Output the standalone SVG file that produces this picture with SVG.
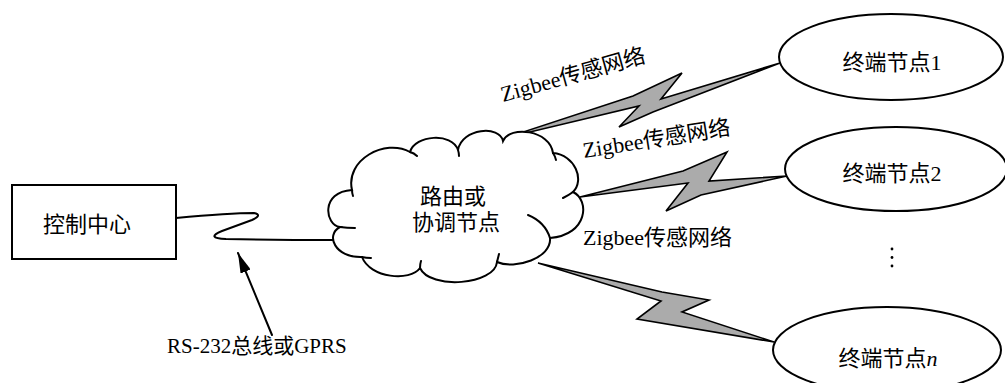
<svg xmlns="http://www.w3.org/2000/svg" width="1005" height="383" viewBox="0 0 1005 383">
<style>
.ln{fill:none;stroke:#000;stroke-width:2;stroke-linejoin:round;stroke-linecap:round}
.shape{fill:#fff;stroke:#000;stroke-width:2}
.bolt{fill:#ababab;stroke:#000;stroke-width:1.6;stroke-linejoin:miter}
.t{font-family:"Liberation Serif","Noto Sans CJK SC",serif;font-size:22px;fill:#000}
.tm{text-anchor:middle}
</style>
<defs>
<marker id="ah" viewBox="0 0 20 11" refX="20" refY="5.5" markerWidth="20" markerHeight="11" markerUnits="userSpaceOnUse" orient="auto">
<path d="M0,0 L20,5.5 L0,11 z" fill="#000"/>
</marker>
</defs>
<g id="connectors">
<path class="ln" d="M176,218 Q230,213 254,213 Q263,215 252,220 L222,231 Q205,238 226,239 Q280,240 334,240"/>
<line class="ln" x1="272" y1="335" x2="238" y2="253" marker-end="url(#ah)"/>
<polygon class="bolt" points="505,138 633,96 682,73 661,99 780,63 653,112 619,127 639,106"/>
<polygon class="bolt" points="580,197 683,171 727,152 709,181 787,176 701,195 666,211 688,183"/>
<polygon class="bolt" points="538,263 662,292 709,300 682,312 774,342 637,319 661,301"/>
</g>
<g id="node-control">
<rect class="shape" x="12" y="185" width="164" height="74"/>
<text class="t tm" x="87" y="232">控制中心</text>
</g>
<g id="node-router">
<path class="shape" d="M352,190 C345,160 385,138 410,152 C415,135 452,132 458,150 C462,128 500,125 503,141 C510,125 550,130 553,153 C575,155 585,180 573,192 C590,200 588,235 550,238 C552,258 515,270 497,262 C495,285 430,290 420,268 C410,282 370,278 362,257 C335,258 325,235 340,227 C325,225 320,192 352,190 Z"/>
<path class="ln" d="M410,152 Q414,153 417,156 M458,150 Q459,153 459,156 M553,153 Q555,156 556,160 M573,192 Q569,195 563,198 M528,215 Q545,222 550,238 M497,262 Q498,258 499,254 M420,268 Q420,264 421,261 M362,257 Q366,258 371,258 M340,227 Q347,228 355,228 M352,190 Q352,193 353,196"/>
<text class="t" x="420" y="204">路由或</text>
<text class="t" x="412" y="230">协调节点</text>
</g>
<g id="node-end1">
<ellipse class="shape" cx="891" cy="57" rx="112" ry="43"/>
<text class="t tm" x="892" y="70">终端节点1</text>
</g>
<g id="node-end2">
<ellipse class="shape" cx="896" cy="169" rx="111" ry="42"/>
<text class="t tm" x="892" y="181">终端节点2</text>
</g>
<g id="ellipsis">
<circle cx="892" cy="249" r="1.4"/>
<circle cx="892" cy="257.5" r="1.4"/>
<circle cx="892" cy="266" r="1.4"/>
</g>
<g id="node-endn">
<ellipse class="shape" cx="887" cy="350" rx="114" ry="43"/>
<text class="t tm" x="888" y="366">终端节点<tspan font-style="italic">n</tspan></text>
</g>
<g id="labels">
<text class="t" x="503" y="102" transform="rotate(-15.5 503 102)">Zigbee传感网络</text>
<text class="t" x="584" y="158" transform="rotate(-9 584 158)">Zigbee传感网络</text>
<text class="t" x="583" y="245">Zigbee传感网络</text>
<text class="t" x="167" y="353" style="font-size:21px">RS-232总线或GPRS</text>
</g>
</svg>
